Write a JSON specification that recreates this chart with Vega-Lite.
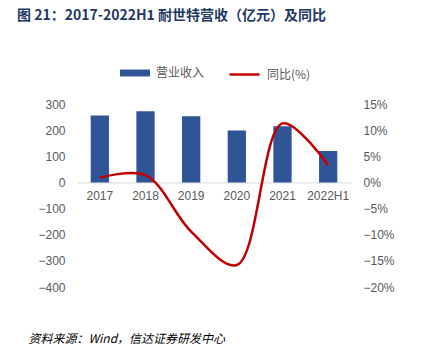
{
  "$schema": "https://vega.github.io/schema/vega-lite/v6.json",
  "width": 274,
  "height": 183,
  "autosize": {"type": "none"},
  "padding": {"left": 77, "top": 104, "right": 70, "bottom": 64},
  "background": "white",
  "config": {"view": {"stroke": null}, "font": "Liberation Sans"},
  "title": {
    "text": "图 21：2017-2022H1 耐世特营收（亿元）及同比",
    "anchor": "start",
    "frame": "group",
    "dx": -60,
    "offset": 35,
    "font": "Noto Sans CJK SC",
    "fontSize": 14,
    "fontWeight": "bold",
    "color": "#1f3864"
  },
  "data": {
    "values": [
      {"year": "2017", "revenue": 256, "yoy": 0.9},
      {"year": "2018", "revenue": 272, "yoy": 1.4},
      {"year": "2019", "revenue": 253, "yoy": -9.4},
      {"year": "2020", "revenue": 199, "yoy": -15.8},
      {"year": "2021", "revenue": 215, "yoy": 11.3},
      {"year": "2022H1", "revenue": 120, "yoy": 3.3}
    ]
  },
  "encoding": {
    "x": {
      "field": "year",
      "type": "nominal",
      "sort": null,
      "scale": {"paddingInner": 0.6, "paddingOuter": 0.3},
      "axis": {
        "orient": "bottom",
        "offset": -104.57,
        "labelAngle": 0,
        "labelColor": "#595959",
        "labelFontSize": 12,
        "labelFont": "Liberation Sans",
        "labelPadding": 8,
        "ticks": false,
        "domainColor": "#d9d9d9",
        "domainWidth": 1,
        "grid": false,
        "title": "资料来源：Wind，信达证券研发中心",
        "titleFont": "Noto Sans CJK SC",
        "titleFontSize": 12,
        "titleFontWeight": "normal",
        "titleFontStyle": "italic",
        "titleColor": "#000000",
        "titleAnchor": "start",
        "titleAlign": "left",
        "titleBaseline": "alphabetic",
        "titleX": -49,
        "titleY": 160
      }
    }
  },
  "layer": [
    {
      "mark": {"type": "bar"},
      "encoding": {
        "y": {
          "field": "revenue",
          "type": "quantitative",
          "scale": {"domain": [-400, 300], "nice": false},
          "axis": {
            "values": [-400, -300, -200, -100, 0, 100, 200, 300],
            "title": null,
            "domain": false,
            "ticks": false,
            "grid": false,
            "labelColor": "#595959",
            "labelFontSize": 12,
            "labelPadding": 12
          }
        },
        "fill": {
          "datum": "营业收入",
          "type": "nominal",
          "scale": {"range": ["#2f5597"]},
          "legend": {
            "orient": "none",
            "legendX": 43,
            "legendY": -46,
            "title": null,
            "padding": 0,
            "symbolType": "M-1,-0.23H1V0.23H-1Z",
            "symbolSize": 900,
            "symbolStrokeWidth": 0,
            "labelOffset": 6,
            "labelFont": "Noto Sans CJK SC",
            "labelFontSize": 12,
            "labelColor": "#595959"
          }
        }
      }
    },
    {
      "mark": {"type": "line", "interpolate": "catmull-rom", "strokeWidth": 2.5},
      "encoding": {
        "y": {
          "field": "yoy",
          "type": "quantitative",
          "scale": {"domain": [-20, 15], "nice": false},
          "axis": {
            "orient": "right",
            "values": [-20, -15, -10, -5, 0, 5, 10, 15],
            "labelExpr": "format(datum.value, 'd') + '%'",
            "title": null,
            "domain": false,
            "ticks": false,
            "grid": false,
            "labelColor": "#595959",
            "labelFontSize": 12,
            "labelPadding": 12
          }
        },
        "stroke": {
          "datum": "同比(%)",
          "type": "nominal",
          "scale": {"range": ["#c00000"]},
          "legend": {
            "orient": "none",
            "legendX": 151,
            "legendY": -46,
            "title": null,
            "padding": 0,
            "symbolType": "stroke",
            "symbolSize": 900,
            "symbolStrokeWidth": 2.5,
            "labelOffset": 6,
            "labelFont": "Noto Sans CJK SC",
            "labelFontSize": 12,
            "labelColor": "#595959"
          }
        }
      }
    }
  ],
  "resolve": {"scale": {"y": "independent"}}
}
